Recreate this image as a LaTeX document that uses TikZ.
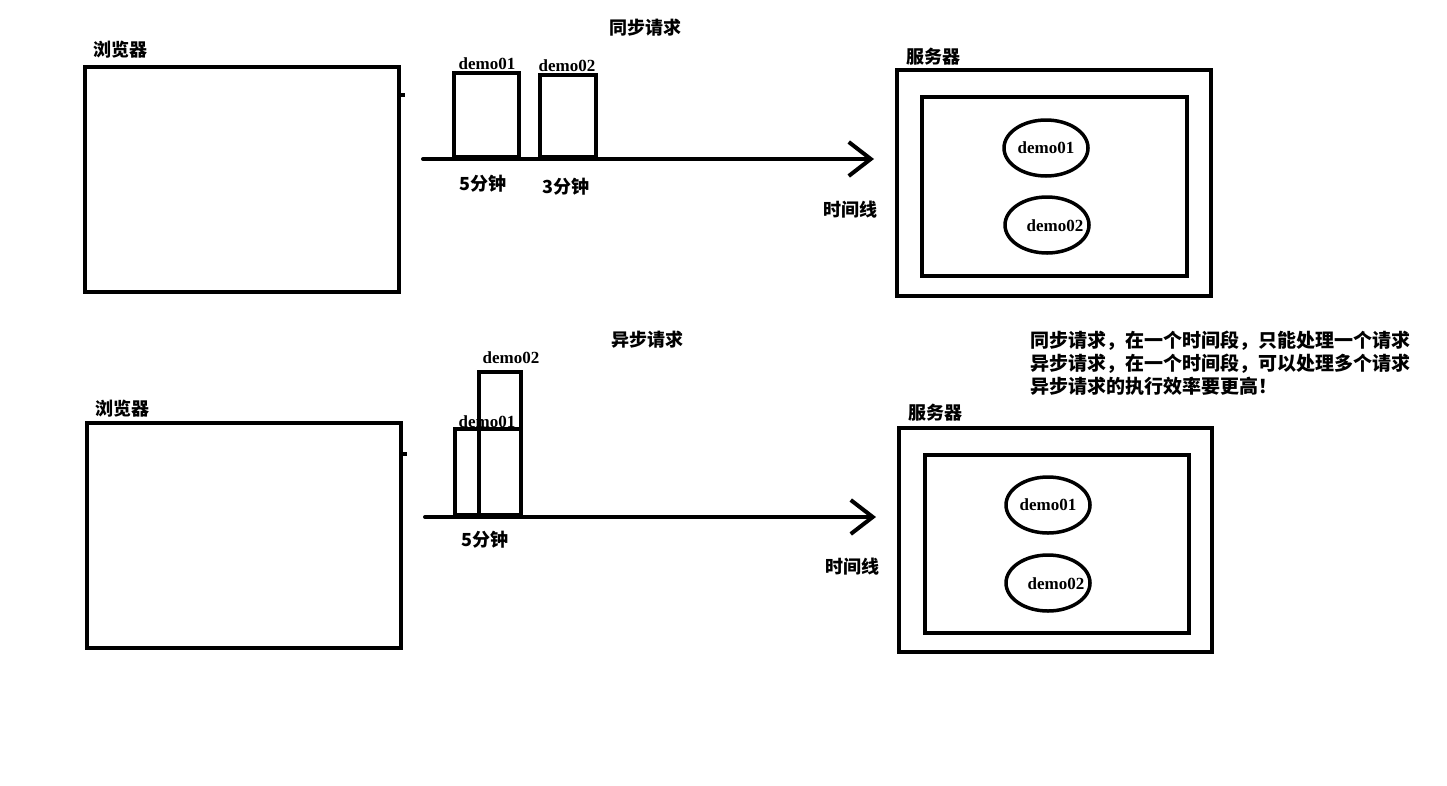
\documentclass[tikz,border=0pt]{standalone}
\usepackage{fontspec}
\setmainfont{Liberation Serif}
\newfontfamily\cjk{Noto Sans CJK SC}
\usetikzlibrary{shapes.geometric,arrows.meta}

\begin{document}
\begin{tikzpicture}[x=1pt, y=-1pt, line width=4pt]
    \tikzset{box/.style={draw, rectangle, inner sep=0pt},
      req/.style={draw, rectangle, inner sep=0pt, anchor=south west},
      proc/.style={draw, ellipse, minimum width=84pt, minimum height=56pt, inner sep=0pt, line width=3.5pt},
      txt/.style={font=\cjk\bfseries\fontsize{18}{23}\selectfont, inner sep=1pt},
      lbl/.style={font=\bfseries\fontsize{17}{22}\selectfont, inner sep=1pt},
      timeline/.style={-{Straight Barb[length=22pt, width=34pt]}, line cap=round}};

    \useasboundingbox (0,0) rectangle (1447,785);

    % Sync

    % Browser
    \node [box, minimum width=314pt, minimum height=225pt] (bro1) at (242,179.5) {};
    \node [txt, anchor=west] (bro1l) at (90,50) {浏览器};
    \draw ([yshift=-30pt]bro1.north east) -- ++(4,0);

    % Timeline
    \path (423,159) coordinate (t1s);
    \path (874,159) coordinate (t1e);
    \draw [timeline] (t1s) -- (t1e);
    \node [txt] (t1l) at (850,210) {时间线};
    \node [txt] (t1h) at (645,28) {同步请求};

    % Requests
    \node [req, minimum width=65pt, minimum height=84pt] (r1a) at (452,159) {};
    \node [req, minimum width=56pt, minimum height=82pt] (r1b) at (538,159) {};
    \node [lbl] (r1al) at (487,64) {demo01};
    \node [lbl] (r1bl) at (567,66) {demo02};
    \node [txt] (r1at) at (483,184) {5分钟};
    \node [txt] (r1bt) at (566,187) {3分钟};

    % Server
    \node [box, minimum width=314pt, minimum height=226pt] (srv1) at (1054,183) {};
    \node [box, minimum width=265pt, minimum height=179pt] (srv1i) at (1054.5,186.5) {};
    \node [txt, anchor=west] (srv1l) at (903,57) {服务器};
    \node [proc, lbl] (p1a) at (1046,148) {demo01};
    \node [proc] (p1b) at (1047,225) {};
    \node [lbl] (p1bl) at (1055,226) {demo02};

    % Async

    % Browser
    \node [box, minimum width=314pt, minimum height=225pt] (bro2) at (244,535.5) {};
    \node [txt, anchor=west] (bro2l) at (92,409) {浏览器};
    \draw ([yshift=-33pt]bro2.north east) -- ++(4,0);

    % Timeline
    \path (425,517) coordinate (t2s);
    \path (876,517) coordinate (t2e);
    \draw [timeline] (t2s) -- (t2e);
    \node [txt] (t2l) at (852,567) {时间线};
    \node [txt] (t2h) at (647,340) {异步请求};

    % Requests
    \node [req, minimum width=66pt, minimum height=86pt] (r2a) at (453,517) {};
    \node [req, minimum width=42pt, minimum height=143pt] (r2b) at (477,517) {};
    \node [lbl] (r2bl) at (511,358) {demo02};
    \node [lbl] (r2al) at (487,422) {demo01};
    \node [txt] (r2at) at (485,540) {5分钟};

    % Server
    \node [box, minimum width=313pt, minimum height=224pt] (srv2) at (1055.5,540) {};
    \node [box, minimum width=264pt, minimum height=178pt] (srv2i) at (1057,544) {};
    \node [txt, anchor=west] (srv2l) at (905,413) {服务器};
    \node [proc, lbl] (p2a) at (1048,505) {demo01};
    \node [proc] (p2b) at (1048,583) {};
    \node [lbl] (p2bl) at (1056,584) {demo02};

    % Note
    \node [txt, font=\cjk\bfseries\fontsize{19}{23}\selectfont, anchor=north west, align=left] (note) at (1027,328)
      {同步请求，在一个时间段，只能处理一个请求\\
       异步请求，在一个时间段，可以处理多个请求\\
       异步请求的执行效率要更高！};
  \end{tikzpicture}
\end{document}
